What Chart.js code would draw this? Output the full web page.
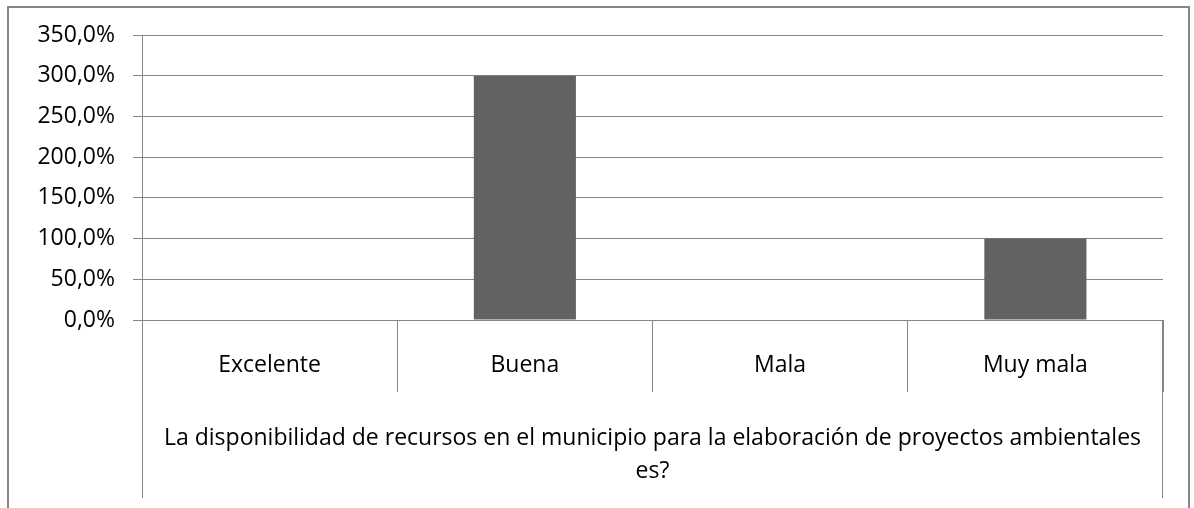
<!DOCTYPE html>
<html>
<head>
<meta charset="utf-8">
<script src="https://cdn.jsdelivr.net/npm/chart.js@4.4.0/dist/chart.umd.min.js"></script>
<style>
  html, body { margin: 0; padding: 0; background: #ffffff; }
  #wrap { width: 1194px; height: 508px; }
</style>
</head>
<body>
<div id="wrap"><canvas id="c" width="1194" height="508"></canvas></div>
<script>
const categories = ["Excelente", "Buena", "Mala", "Muy mala"];
const values = [0, 300, 0, 100];
const groupLabel = ["La disponibilidad de recursos en el municipio para la elaboración de proyectos ambientales", "es?"];
const yMin = 0, yMax = 350, yStep = 50;

const FONT = "'Open Sans', sans-serif";
const LINE = '#868686';

const frame = {
  id: 'frame',
  afterDraw(chart) {
    const ctx = chart.ctx;
    const a = chart.chartArea;
    ctx.save();
    ctx.strokeStyle = LINE;
    ctx.lineWidth = 2;
    ctx.strokeRect(8, 7, 1181, 540);
    ctx.lineWidth = 1;
    ctx.beginPath();
    ctx.moveTo(Math.round(a.left) + 0.5, a.bottom);
    ctx.lineTo(Math.round(a.left) + 0.5, 498);
    ctx.moveTo(Math.round(a.right) - 0.5, a.bottom);
    ctx.lineTo(Math.round(a.right) - 0.5, 498);
    ctx.stroke();
    ctx.restore();
  }
};

new Chart(document.getElementById('c'), {
  type: 'bar',
  data: {
    labels: categories,
    datasets: [{
      data: values,
      backgroundColor: '#626262',
      borderWidth: 0,
      categoryPercentage: 1.0,
      barPercentage: 0.4
    }]
  },
  options: {
    responsive: false,
    animation: false,
    layout: { padding: { top: 35, right: 31, left: 0, bottom: 0 } },
    plugins: {
      legend: { display: false },
      tooltip: { enabled: false }
    },
    scales: {
      x: {
        grid: {
          display: true,
          offset: true,
          drawOnChartArea: false,
          drawTicks: true,
          tickLength: 72,
          color: LINE,
          lineWidth: 1
        },
        border: { display: true, color: LINE, width: 1 },
        ticks: {
          color: '#000000',
          font: { family: FONT, size: 23 },
          padding: -40,
          maxRotation: 0,
          autoSkip: false
        },
        title: {
          display: true,
          text: groupLabel,
          color: '#000000',
          font: { family: FONT, size: 23, lineHeight: 1.43 },
          padding: { top: 0, bottom: 20 }
        },
        afterFit(scale) { scale.height = 188; }
      },
      y: {
        min: yMin,
        max: yMax,
        ticks: {
          stepSize: yStep,
          color: '#000000',
          font: { family: FONT, size: 23 },
          padding: 18,
          callback: (v) => v.toFixed(1).replace('.', ',') + '%'
        },
        grid: {
          color: LINE,
          lineWidth: 1,
          tickLength: 9,
          drawTicks: true
        },
        border: { display: true, color: LINE, width: 1 },
        afterFit(scale) { scale.width = 142; }
      }
    }
  },
  plugins: [frame]
});
</script>
</body>
</html>
